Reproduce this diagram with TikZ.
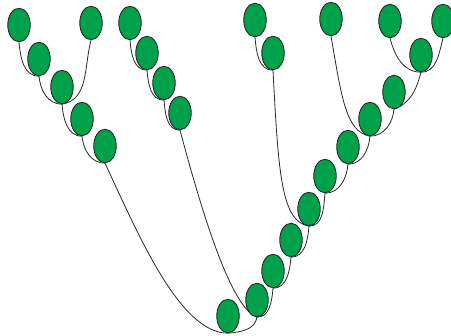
\documentclass[tikz,border=0pt]{standalone}
\usetikzlibrary{shapes.geometric,backgrounds}
\definecolor{leafgreen}{RGB}{0,161,75}
\definecolor{edgegray}{RGB}{40,40,40}
\tikzset{
  cell/.style={ellipse, draw=edgegray, line width=0.9pt, fill=leafgreen, minimum width=22.5pt, minimum height=33.5pt, inner sep=0pt},
  branch/.style={draw=edgegray, line width=0.8pt},
  fromleft/.style={out=-85, in=180},
  fromright/.style={out=-95, in=0}
}
\begin{document}
\begin{tikzpicture}[x=1pt,y=1pt]
\useasboundingbox (0,0) rectangle (451,-336);
% left group
\node[cell] (a1) at (19,-25) {};
\node[cell] (a2) at (39,-59) {};
\node[cell] (a3) at (62,-87) {};
\node[cell] (a4) at (82,-119) {};
\node[cell] (a5) at (105,-146) {};
\node[cell] (b) at (91,-23) {};
% second group
\node[cell] (c1) at (130,-23) {};
\node[cell] (c2) at (147,-53) {};
\node[cell] (c3) at (164,-83) {};
\node[cell] (c4) at (180,-113) {};
% third group
\node[cell] (d1) at (255,-20) {};
\node[cell] (d2) at (273,-53) {};
\node[cell] (e) at (331,-19) {};
\node[cell] (f1) at (390,-21) {};
\node[cell] (f2) at (443,-21) {};
\node[cell] (f3) at (421,-55) {};
% right spine
\node[cell] (g1) at (394,-92) {};
\node[cell] (g2) at (370,-119) {};
\node[cell] (g3) at (348,-147) {};
\node[cell] (h1) at (325,-176) {};
\node[cell] (h2) at (309,-209) {};
\node[cell] (h3) at (291,-240) {};
\node[cell] (h4) at (273,-271) {};
\node[cell] (h5) at (257,-300) {};
\node[cell] (root) at (228,-316) {};
\begin{pgfonlayer}{background}
\path[branch] (a1.south) to[fromleft] (a2.south);
\path[branch] (a2.south) to[fromleft] (a3.south);
\path[branch] (b.south) to[out=-105, in=10] (a3.south);
\path[branch] (a3.south) to[fromleft] (a4.south);
\path[branch] (a4.south) to[fromleft] (a5.south);
\path[branch] (a5.south) .. controls +(-65:80) and +(180:48) .. (root.south);
\path[branch] (c1.south) to[fromleft] (c2.south);
\path[branch] (c2.south) to[fromleft] (c3.south);
\path[branch] (c3.south) to[fromleft] (c4.south);
\path[branch] (c4.south) .. controls +(-75:85) and +(160:28) .. (h5.south);
\path[branch] (d1.south) to[fromleft] (d2.south);
\path[branch] (d2.south) .. controls +(-87:105) and +(170:28) .. (h2.south);
\path[branch] (e.south) .. controls +(-80:60) and +(170:25) .. (g2.south);
\path[branch] (f1.south) to[out=-75, in=180] (f3.south);
\path[branch] (f2.south) to[out=-105, in=0] (f3.south);
\path[branch] (f3.south) to[out=-105, in=20] (g1.south);
\path[branch] (g1.south) to[fromright] (g2.south);
\path[branch] (g2.south) to[fromright] (g3.south);
\path[branch] (g3.south) to[fromright] (h1.south);
\path[branch] (h1.south) to[fromright] (h2.south);
\path[branch] (h2.south) to[fromright] (h3.south);
\path[branch] (h3.south) to[fromright] (h4.south);
\path[branch] (h4.south) to[fromright] (h5.south);
\path[branch] (h5.south) to[out=-100, in=5] (root.south);
\end{pgfonlayer}
\end{tikzpicture}
\end{document}
